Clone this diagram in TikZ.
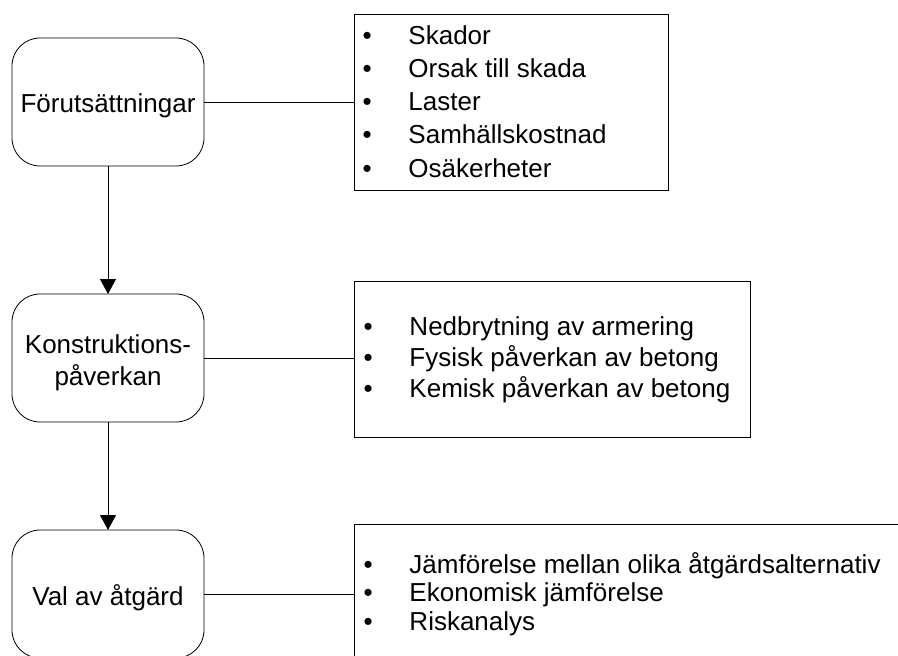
\documentclass[tikz,border=0pt]{standalone}
\usepackage{fontspec}
\setmainfont{Liberation Sans}
\usetikzlibrary{arrows.meta}
\newcommand{\listdot}{\makebox[46pt][l]{•}}
\begin{document}
\begin{tikzpicture}[x=1pt,y=-1pt,
  every node/.style={font=\fontsize{26}{31}\selectfont, inner sep=0pt, outer sep=0pt},
  stage/.style={draw, line width=0.8pt, rounded corners=28pt,
                minimum width=192pt, minimum height=128pt},
  listbox/.style={draw, line width=0.8pt},
  txt/.style={anchor=base},
  item/.style={anchor=base west},
  link/.style={line width=0.8pt},
  flow/.style={line width=0.8pt, -{Triangle[width=16pt,length=15pt]}}]
\useasboundingbox (0,0) rectangle (898,656);
\clip (0,0) rectangle (898,656);

% process stages
\node[stage] (pre) at (108,102) {};
\node[txt] (preT) at (108,112.5) {Förutsättningar};
\node[stage] (kon) at (108,358) {};
\node[txt] (konA) at (108,353) {Konstruktions-};
\node[txt] (konB) at (108,385) {påverkan};
\node[stage] (val) at (108,594) {};
\node[txt] (valT) at (108,605) {Val av åtgärd};

% bullet-list frames
\node[listbox, minimum width=314pt, minimum height=176pt] (preL) at (511,102) {};
\node[listbox, minimum width=396pt, minimum height=156pt] (konL) at (552,359) {};
\node[listbox, minimum width=700pt, minimum height=200pt] (valL) at (704,624) {};

% bullet items
\foreach \t [count=\i, evaluate=\i as \yy using 44+(\i-1)*33.25] in
  {Skador, Orsak till skada, Laster, Samhällskostnad, Osäkerheter}
  \node[item] (preI-\i) at (362.5,\yy) {\listdot\t};
\foreach \t [count=\i, evaluate=\i as \yy using 335+(\i-1)*31] in
  {Nedbrytning av armering, Fysisk påverkan av betong, Kemisk påverkan av betong}
  \node[item] (konI-\i) at (363.5,\yy) {\listdot\t};
\foreach \t [count=\i, evaluate=\i as \yy using 573+(\i-1)*28.75] in
  {Jämförelse mellan olika åtgärdsalternativ, Ekonomisk jämförelse, Riskanalys}
  \node[item] (valI-\i) at (363.5,\yy) {\listdot\t};

% connectors
\draw[link] (pre.east) -- (pre.east -| preL.west);
\draw[link] (kon.east) -- (kon.east -| konL.west);
\draw[link] (val.east) -- (val.east -| valL.west);
\draw[flow] (pre.south) -- (kon.north);
\draw[flow] (kon.south) -- (val.north);
\end{tikzpicture}
\end{document}
